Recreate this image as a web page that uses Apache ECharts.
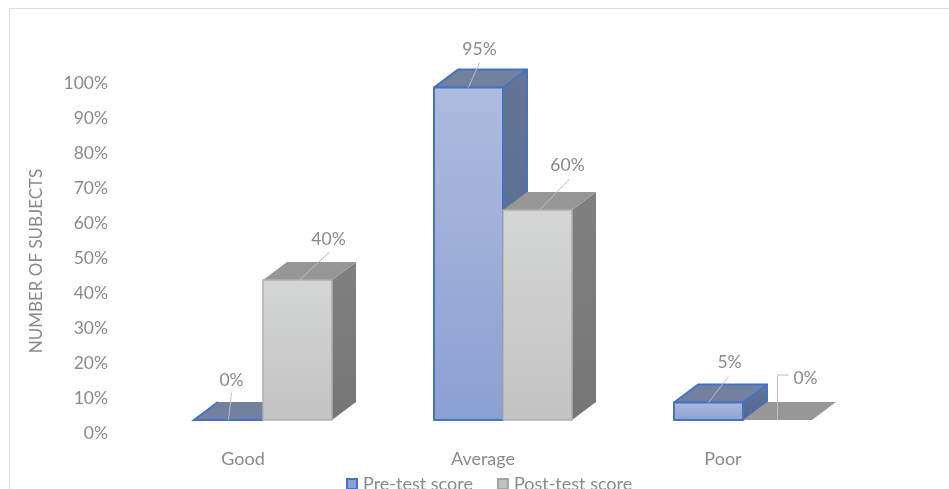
<!DOCTYPE html>
<html><head><meta charset="utf-8">
<style>html,body{margin:0;padding:0;background:#fff}#c{width:949px;height:489px}</style>
<script src="https://cdn.jsdelivr.net/npm/echarts@6/dist/echarts.min.js"></script>
</head><body><div id="c"></div>
<script>
const categories = ['Good', 'Average', 'Poor'];
const preTest = [0, 95, 5];
const postTest = [40, 60, 0];
const yTicks = [0, 10, 20, 30, 40, 50, 60, 70, 80, 90, 100];

// drawing style constants (not data)
const DEPTH_X = 24, DEPTH_Y = -18, FLOOR_LIFT = 13, BAR_SHIFT = 20, BAR_RATIO = 69 / 240;
const FONT = 'Lato';
const TXT = '#8a8a8a';
const LEAD = '#bdbdbd';
const preLabels = [
  {dx: 3, dy: -41, pts: [[3, -27], [0, 0]]},
  {dx: 11, dy: -39, pts: [[11, -25], [0, 0]]},
  {dx: 21, dy: -41, pts: [[20, -26], [0, 0]]}
];
const postLabels = [
  {dx: 31, dy: -42, pts: [[32, -28], [2, 0]]},
  {dx: 30, dy: -46, pts: [[32, -31], [2, 0]]},
  {dx: 28, dy: -43, pts: [[11, -45], [0, -45], [0, 0]]}
];
const skinPre = {
  front: {type:'linear',x:0,y:0,x2:0,y2:1,colorStops:[{offset:0,color:'#aebbde'},{offset:1,color:'#8ba0d3'}]},
  side:  {type:'linear',x:0,y:0,x2:0,y2:1,colorStops:[{offset:0,color:'#667595'},{offset:1,color:'#516595'}]},
  top: '#73819f', stroke: '#4472c4', lw: 2
};
const skinPost = {
  front: {type:'linear',x:0,y:0,x2:0,y2:1,colorStops:[{offset:0,color:'#d4d5d5'},{offset:1,color:'#c3c3c3'}]},
  side:  {type:'linear',x:0,y:0,x2:0,y2:1,colorStops:[{offset:0,color:'#808080'},{offset:1,color:'#767676'}]},
  top: '#979797', stroke: '#b0b0b0', lw: 1.5
};

function bar3d(slot, skin, labels) {
  return function (params, api) {
    const i = api.value(0), v = api.value(1);
    const base = api.coord([i, 0]), tip = api.coord([i, v]);
    const w = api.size([1, 0])[0] * BAR_RATIO;
    const x0 = base[0] + BAR_SHIFT + (slot - 1) * w, x1 = x0 + w;
    const yb = base[1] - FLOOR_LIFT, yt = tip[1] - FLOOR_LIFT;
    const dx = DEPTH_X, dy = DEPTH_Y;
    const poly = (points, fill, stroke) => ({
      type: 'polygon', shape: {points},
      style: {fill, stroke: stroke || null, lineWidth: stroke ? skin.lw : 0, lineJoin: 'round'}
    });
    const children = [];
    const edged = skin === skinPre ? skin.stroke : null;
    if (v > 0) {
      children.push(poly([[x1, yb], [x1 + dx, yb + dy], [x1 + dx, yt + dy], [x1, yt]], skin.side, edged));
    }
    const flatStroke = (v === 0 && skin === skinPre) ? null : edged;
    children.push(poly([[x0, yt], [x1, yt], [x1 + dx, yt + dy], [x0 + dx, yt + dy]], skin.top, flatStroke));
    if (v > 0) {
      children.push(poly([[x0, yb], [x1, yb], [x1, yt], [x0, yt]], skin.front, skin.stroke));
    } else if (skin === skinPre) {
      children.push({type:'polyline', shape:{points:[[x0 + dx, yb + dy],[x0, yb],[x1, yb]]},
        style:{fill:null, stroke:skin.stroke, lineWidth:2}});
    }
    const L = labels[i];
    const cx = x0 + w / 2;
    children.push({type:'polyline', shape:{points:L.pts.map(p => [cx + p[0], yt + p[1]])},
      style:{fill:null, stroke:LEAD, lineWidth:1}});
    children.push({type:'text', style:{x: cx + L.dx, y: yt + L.dy + 1, text: v + '%',
      fill: TXT, font: '17.5px ' + FONT, align:'center', verticalAlign:'middle'}});
    return {type:'group', children};
  };
}

const chart = echarts.init(document.getElementById('c'), null, {renderer:'canvas'});
chart.setOption({
  animation: false,
  backgroundColor: '#fff',
  grid: {left: 123, right: 106, top: 83, bottom: 56},
  graphic: [{type:'polyline', silent:true, z:-1,
    shape:{points:[[9.5,489],[9.5,8.5],[949,8.5]]},
    style:{fill:null, stroke:'#dcdcdc', lineWidth:1}}],
  legend: {
    data: ['Pre-test score', 'Post-test score'],
    left: 341, top: 470, itemWidth: 10, itemHeight: 10, itemGap: 24,
    icon: 'rect',
    textStyle: {color: TXT, fontFamily: FONT, fontSize: 18, padding: [0, 0, 0, 1]}
  },
  xAxis: {type:'category', data: categories,
    axisLine:{show:false}, axisTick:{show:false}, splitLine:{show:false},
    axisLabel:{color:TXT, fontFamily:FONT, fontSize:18, margin:17}},
  yAxis: {type:'value', min:yTicks[0], max:yTicks[yTicks.length-1], interval:yTicks[1]-yTicks[0],
    name:'NUMBER OF SUBJECTS', nameLocation:'middle', nameRotate:90, nameGap:78,
    nameTextStyle:{color:TXT, fontFamily:FONT, fontSize:17, padding:[0,6,0,0]},
    axisLine:{show:false}, axisTick:{show:false}, splitLine:{show:false},
    axisLabel:{color:TXT, fontFamily:FONT, fontSize:17.5, margin:15, padding:[5,0,0,0], formatter:'{value}%'}},
  series: [
    {name:'Pre-test score', type:'custom', renderItem: bar3d(0, skinPre, preLabels),
     encode:{x:0,y:1}, data: preTest.map((v,i)=>[i,v]),
     itemStyle:{color:'#8ba0d3', borderColor:'#4472c4', borderWidth:1.5}, clip:false},
    {name:'Post-test score', type:'custom', renderItem: bar3d(1, skinPost, postLabels),
     encode:{x:0,y:1}, data: postTest.map((v,i)=>[i,v]),
     itemStyle:{color:'#c1c1c1', borderColor:'#a5a5a5', borderWidth:1.5}, clip:false}
  ]
});
</script></body></html>
